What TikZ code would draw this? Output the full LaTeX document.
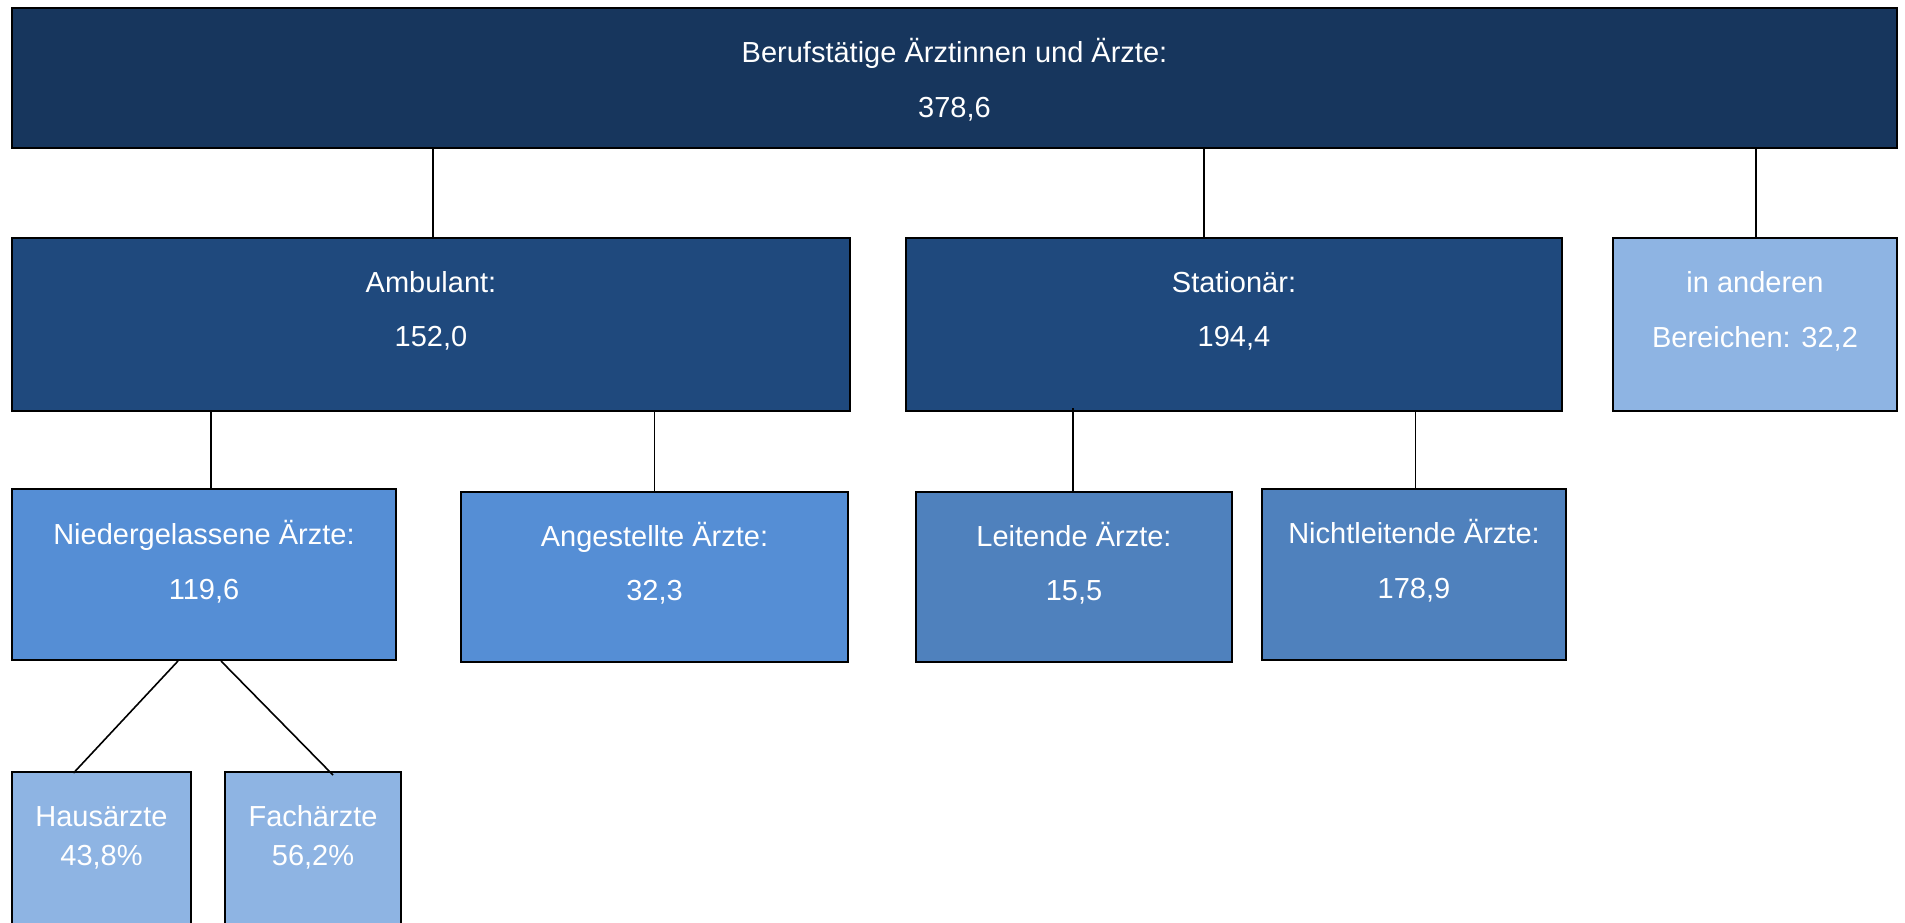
\documentclass[tikz,border=0pt]{standalone}
\usepackage{fontspec}
\setmainfont{Liberation Sans}
\definecolor{ctop}{HTML}{17365D}
\definecolor{cmid}{HTML}{1F497D}
\definecolor{cniedr}{HTML}{558ED5}
\definecolor{cleit}{HTML}{4F81BD}
\definecolor{clight}{HTML}{8EB4E3}
\tikzset{
  box/.style={draw=black, line width=2pt, inner sep=0pt, rectangle},
  txt/.style={text=white, anchor=base, inner sep=0pt, font=\fontsize{29}{34}\selectfont},
  conn/.style={draw=black, line width=1.6pt},
}
\begin{document}
\begin{tikzpicture}[x=1pt,y=-1pt]
\useasboundingbox (0,0) rectangle (1905,922);
\clip (0,0) rectangle (1905,922);
\fill[white] (0,0) rectangle (1905,922);
% boxes
\node[box, fill=ctop, minimum width=1885pt, minimum height=140pt] (top) at (954.5,78) {};
\node[box, fill=cmid, minimum width=838pt, minimum height=173pt] (amb) at (431,324.5) {};
\node[box, fill=cmid, minimum width=656pt, minimum height=173pt] (stat) at (1234,324.5) {};
\node[box, fill=clight, minimum width=284pt, minimum height=173pt] (andere) at (1755,324.5) {};
\node[box, fill=cniedr, minimum width=384pt, minimum height=171pt] (nieder) at (204,574.5) {};
\node[box, fill=cniedr, minimum width=387pt, minimum height=170pt] (anges) at (654.5,577) {};
\node[box, fill=cleit, minimum width=316pt, minimum height=170pt] (leit) at (1074,577) {};
\node[box, fill=cleit, minimum width=304pt, minimum height=171pt] (nicht) at (1414,574.5) {};
\node[box, fill=clight, minimum width=179pt, minimum height=188pt] (haus) at (101.5,866) {};
\node[box, fill=clight, minimum width=176pt, minimum height=188pt] (fach) at (313,866) {};
% texts
\node[txt] (top-a) at (954.5,62) {Berufstätige Ärztinnen und Ärzte:};
\node[txt] (top-b) at (954.5,117) {378,6};
\node[txt] (amb-a) at (431,292) {Ambulant:};
\node[txt] (amb-b) at (431,346) {152,0};
\node[txt] (stat-a) at (1234,292) {Stationär:};
\node[txt] (stat-b) at (1234,346) {194,4};
\node[txt] (andere-a) at (1755,292) {in anderen};
\node[txt] (andere-b) at (1755,347) {Bereichen: 32,2};
\node[txt] (nieder-a) at (204,544) {Niedergelassene Ärzte:};
\node[txt] (nieder-b) at (204,599) {119,6};
\node[txt] (anges-a) at (654.5,546) {Angestellte Ärzte:};
\node[txt] (anges-b) at (654.5,600) {32,3};
\node[txt] (leit-a) at (1074,546) {Leitende Ärzte:};
\node[txt] (leit-b) at (1074,600) {15,5};
\node[txt] (nicht-a) at (1414,543) {Nichtleitende Ärzte:};
\node[txt] (nicht-b) at (1414,598) {178,9};
\node[txt] (haus-a) at (101.5,826) {Hausärzte};
\node[txt] (haus-b) at (101.5,865) {43,8\%};
\node[txt] (fach-a) at (313,826) {Fachärzte};
\node[txt] (fach-b) at (313,865) {56,2\%};
% connectors
\draw[conn] ([xshift=2pt]amb.north) -- ([xshift=2pt]amb.north |- top.south);
\draw[conn] ([xshift=-30pt]stat.north) -- ([xshift=-30pt]stat.north |- top.south);
\draw[conn] ([xshift=1pt]andere.north) -- ([xshift=1pt]andere.north |- top.south);
\draw[conn] ([xshift=7pt]nieder.north) -- ([xshift=7pt]nieder.north |- amb.south);
\draw[conn] (anges.north) -- (anges.north |- amb.south);
\draw[conn] ([xshift=-1pt]leit.north) -- ([xshift=-1pt,yshift=4pt]leit.north |- stat.south);
\draw[conn] ([xshift=1.5pt]nicht.north) -- ([xshift=1.5pt]nicht.north |- stat.south);
\draw[conn] ([xshift=-26pt]nieder.south) -- ([xshift=-28pt,yshift=-2pt]haus.north);
\draw[conn] ([xshift=17pt]nieder.south) -- ([xshift=20pt,yshift=-4pt]fach.north);
\end{tikzpicture}
\end{document}
